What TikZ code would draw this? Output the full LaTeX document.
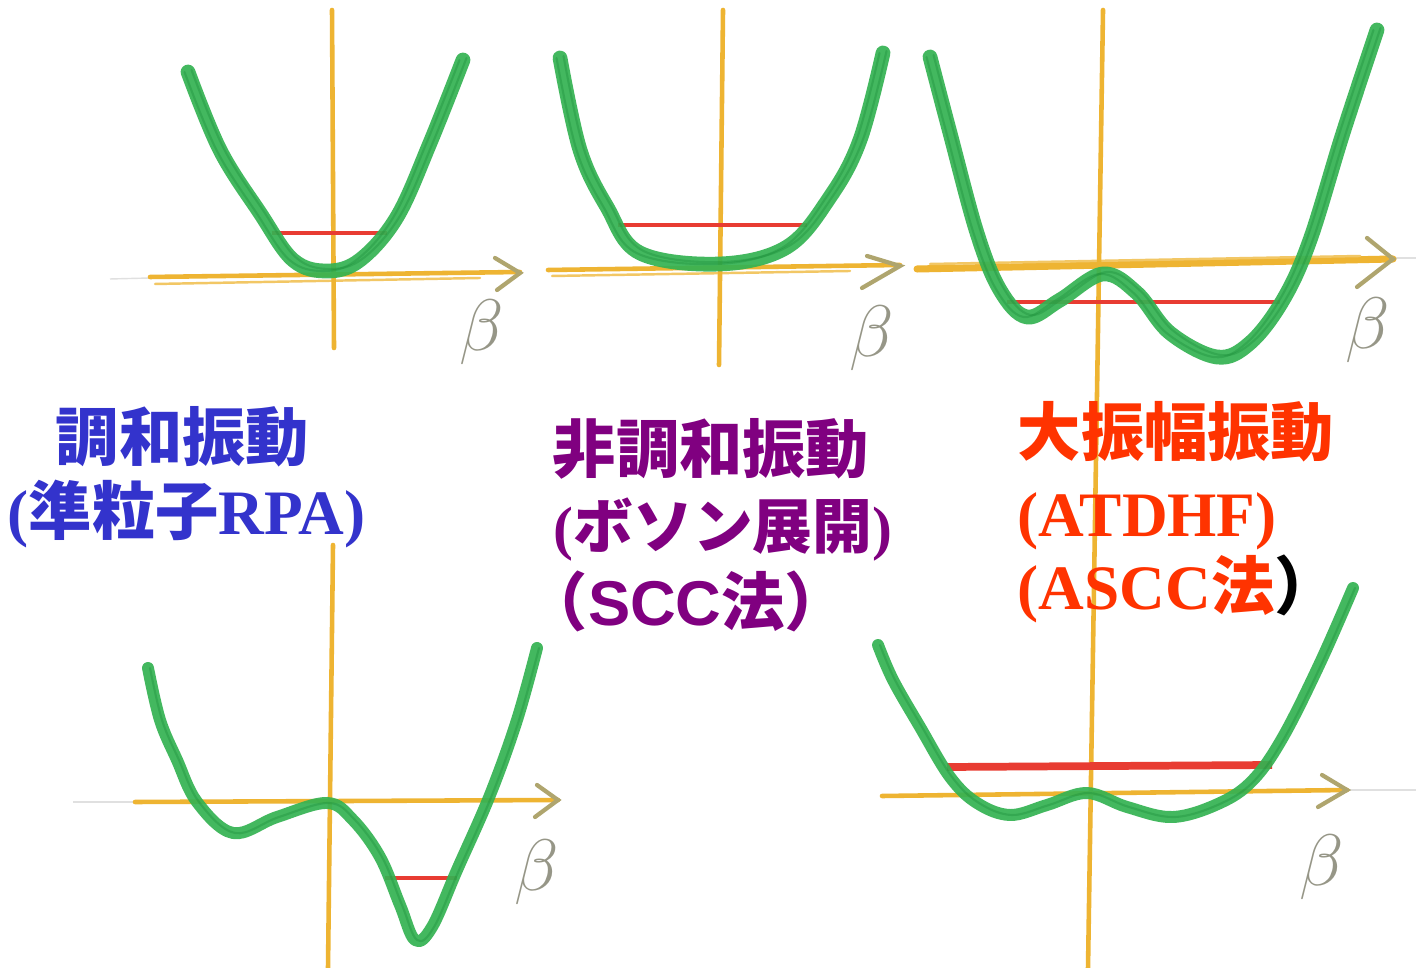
\documentclass[tikz,border=0pt]{standalone}
\usepackage{fontspec}
\newfontfamily\jp{Noto Sans CJK JP}
\newfontfamily\tms{Liberation Serif}[UprightFont=* Bold,BoldFont=* Bold]
\newfontfamily\arl{Liberation Sans}[UprightFont=* Bold,BoldFont=* Bold]
\definecolor{cblue}{RGB}{51,51,204}
\definecolor{cpurple}{RGB}{128,0,128}
\definecolor{cred}{RGB}{255,51,0}
\definecolor{cgreen}{RGB}{52,178,82}
\definecolor{cgreendk}{RGB}{25,140,55}
\definecolor{caxis}{RGB}{238,180,50}
\definecolor{clevel}{RGB}{232,60,50}
\definecolor{cbeta}{RGB}{150,150,135}
\definecolor{carrow}{RGB}{175,165,110}
\begin{document}
\begin{tikzpicture}[x=0.01cm,y=-0.01cm,
  axisline/.style={draw=caxis,line width=1.3pt,line cap=round},
  axisthin/.style={draw=caxis!75,line width=0.7pt,line cap=round},
  potential/.style={draw=cgreen,line width=3.4pt,line cap=round,line join=round,opacity=0.92},
  potentialtex/.style={draw=cgreendk,line width=0.6pt,opacity=0.35,line cap=round},
  levelline/.style={draw=clevel,line width=1.1pt},
  arrowstroke/.style={draw=carrow,line width=1.2pt,line cap=round},
  faint/.style={draw=black!12,line width=0.4pt},
  betalabel/.style={text=cbeta,font=\fontsize{22}{22}\selectfont,inner sep=0},
  title/.style={anchor=base west,inner sep=0,font=\jp\bfseries\fontsize{18}{18}\selectfont}]
\useasboundingbox (0,0) rectangle (1416,968);
\fill[white] (0,0) rectangle (1416,968);

% faint extension lines
\draw[faint] (110,279) -- (150,278);
\draw[faint] (1393,258) -- (1416,258);
\draw[faint] (73,802) -- (135,802);
\draw[faint] (1347,790) -- (1416,790);

% ---------- axes ----------
% panel 1
\draw[axisline] (150,277) -- (520,272);
\draw[axisthin] (155,284) -- (480,278);
\draw[axisline] (332,10) -- (334,348);
% panel 2
\draw[axisline] (548,270) -- (900,265);
\draw[axisthin] (552,276) -- (850,271);
\draw[axisline] (723,10) -- (719,365);
% panel 3 (vertical continues to bottom-right panel)
\draw[axisline,line width=2pt] (917,269) -- (1393,259);
\draw[axisthin] (930,264) -- (1360,256);
\draw[axisline] (1103,10) -- (1088,968);
% bottom-left
\draw[axisline] (135,802) -- (558,800);
\draw[axisline] (333,545) -- (328,968);
% bottom-right
\draw[axisline] (882,796) -- (1347,790);

% ---------- arrowheads ----------
\draw[arrowstroke] (495,258) -- (520,273) -- (497,290);
\draw[arrowstroke] (867,256) -- (900,266) -- (862,288);
\draw[arrowstroke] (1367,238) -- (1393,259) -- (1357,287);
\draw[arrowstroke] (537,785) -- (558,800) -- (535,817);
\draw[arrowstroke] (1322,775) -- (1347,790) -- (1318,807);

% ---------- levels ----------
\draw[levelline] (272,233) -- (387,233);
\draw[levelline,line width=1.3pt] (618,225) -- (807,225);
\draw[levelline,line width=1.3pt] (1007,302) -- (1280,302);
\draw[levelline] (385,878) -- (457,878);
\draw[levelline,line width=2.2pt] (947,767) -- (1272,765);

% ---------- potentials ----------
\def\curveA{(188,72) (220,150) (260,213) (293,260) (327,271) (360,260) (397,217) (430,143) (463,60)}
\def\curveB{(560,58) (580,150) (607,207) (640,253) (720,264) (787,247) (830,197) (860,140) (883,53)}
\def\curveC{(930,57) (950,133) (977,233) (1000,290) (1027,317) (1060,300) (1103,274) (1137,293) (1170,333) (1217,357) (1250,343) (1283,300) (1310,240) (1343,133) (1377,30)}
\def\curveD{(148,668) (160,720) (177,760) (197,802) (233,833) (277,817) (327,803) (353,820) (380,857) (400,905) (415,940) (432,927) (457,870) (490,795) (517,720) (537,648)}
\def\curveE{(878,645) (893,680) (920,727) (950,777) (977,803) (1010,815) (1047,805) (1087,793) (1127,807) (1173,817) (1220,803) (1253,780) (1283,737) (1320,663) (1353,588)}
\foreach \c in {\curveA,\curveB,\curveC} {
  \draw[potential,line width=4.2pt] plot[smooth,tension=0.6] coordinates {\c};
  \draw[potentialtex,xshift=-0.035cm] plot[smooth,tension=0.6] coordinates {\c};
  \draw[potentialtex,xshift=0.035cm,yshift=0.02cm] plot[smooth,tension=0.6] coordinates {\c};
}
\foreach \c in {\curveD,\curveE} {
  \draw[potential,line width=3.4pt] plot[smooth,tension=0.6] coordinates {\c};
  \draw[potentialtex,xshift=0.02cm] plot[smooth,tension=0.6] coordinates {\c};
}

% ---------- beta labels ----------
\node[betalabel] (b1) at (482,332) {$\beta$};
\node[betalabel] (b2) at (872,338) {$\beta$};
\node[betalabel] (b3) at (1368,330) {$\beta$};
\node[betalabel] (b4) at (537,872) {$\beta$};
\node[betalabel] (b5) at (1322,867) {$\beta$};

% ---------- titles ----------
\node[title,text=cblue] (t1a) at (55,461) {調和振動};
\node[title,text=cblue] (t1b) at (7,535) {{\tms (}準粒子{\tms RPA)}};

\node[title,text=cpurple] (t2a) at (552,473) {非調和振動};
\node[title,text=cpurple,font=\jp\bfseries\fontsize{17}{17}\selectfont] (t2b) at (553,549) {{\tms (}ボソン展開{\tms )}};
\node[title,text=cpurple] (t2c) at (524,626) {（{\arl SCC}法）};

\node[title,text=cred] (t3a) at (1017,456) {大振幅振動};
\node[title,text=cred] (t3b) at (1017,537) {{\tms (ATDHF)}};
\node[title,text=cred] (t3c) at (1017,610) {{\tms (ASCC}法\textcolor{black}{）}};
\end{tikzpicture}
\end{document}
